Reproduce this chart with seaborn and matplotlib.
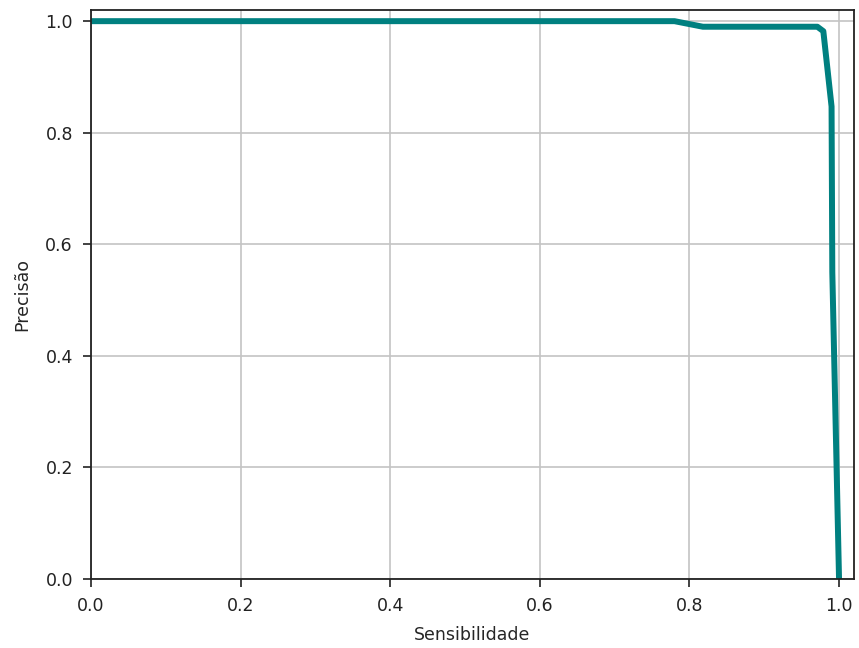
import matplotlib
matplotlib.use("Agg")
import matplotlib.pyplot as plt
import seaborn as sns
import pandas as pd

recall = [0.0, 0.78, 0.818, 0.971, 0.979, 0.990, 0.991, 1.0]
precision = [1.0, 1.0, 0.99, 0.99, 0.982, 0.847, 0.55, 0.0]

sns.set_style("ticks")
plt.rcParams['font.family'] = ['DejaVu Sans']

fig = plt.figure(figsize=(8.59, 6.48), dpi=100)
ax = fig.add_axes([91/859, 1-579/648, (854-91)/859, (579-10)/648])
df = pd.DataFrame({"Sensibilidade": recall, "Precisão": precision})
sns.lineplot(data=df, x="Sensibilidade", y="Precisão", sort=False, color="#008080", linewidth=4.3, ax=ax)
ax.set_xlim(0, 1.02)
ax.set_ylim(0, 1.02)
ax.set_xticks([0, 0.2, 0.4, 0.6, 0.8, 1.0])
ax.set_yticks([0, 0.2, 0.4, 0.6, 0.8, 1.0])
ax.grid(True, color="#c4c4c4", linewidth=1.2)
ax.set_axisbelow(True)
for s in ax.spines.values():
    s.set_visible(True)
    s.set_color("#222222")
    s.set_linewidth(1.3)
ax.tick_params(labelsize=12.5, colors="#222222", length=6, width=1.2, pad=7)
ax.set_xlabel("Sensibilidade", fontsize=12.5, labelpad=8)
ax.set_ylabel("Precisão", fontsize=12.5, labelpad=10)
fig.savefig("out.png", dpi=100)
